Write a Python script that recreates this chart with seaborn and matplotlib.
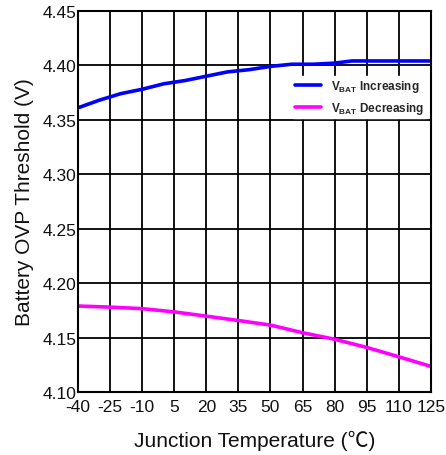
import numpy as np
import pandas as pd
import matplotlib
matplotlib.use("Agg")
import matplotlib.pyplot as plt
import seaborn as sns

temp_inc = [-40, -30, -20, -10, 0, 10, 20, 30, 40, 50, 60, 70, 80, 88, 100, 110, 125]
v_inc = [4.361, 4.368, 4.374, 4.378, 4.383, 4.386, 4.390, 4.394, 4.396, 4.399, 4.401, 4.401, 4.402, 4.404, 4.404, 4.404, 4.404]
temp_dec = [-40, -25, -10, 5, 20, 35, 50, 65, 80, 95, 110, 125]
v_dec = [4.179, 4.178, 4.1766, 4.1736, 4.1697, 4.1657, 4.1615, 4.1545, 4.1485, 4.141, 4.1324, 4.1236]
series_names = ["$\\mathbf{V_{BAT}}$ Increasing", "$\\mathbf{V_{BAT}}$ Decreasing"]
x_ticks = [-40, -25, -10, 5, 20, 35, 50, 65, 80, 95, 110, 125]
y_ticks = [4.10, 4.15, 4.20, 4.25, 4.30, 4.35, 4.40, 4.45]

sns.set_style("white")
plt.rcParams['font.family'] = ['Liberation Sans', 'Noto Sans CJK SC', 'DejaVu Sans']
plt.rcParams['mathtext.fontset'] = 'custom'
plt.rcParams['mathtext.rm'] = 'Liberation Sans'
plt.rcParams['mathtext.bf'] = 'Liberation Sans:bold'

df = pd.concat([
    pd.DataFrame({"T": temp_inc, "V": v_inc, "s": series_names[0]}),
    pd.DataFrame({"T": temp_dec, "V": v_dec, "s": series_names[1]}),
])

fig = plt.figure(figsize=(4.46, 4.56), dpi=100)
ax = fig.add_axes([0.175, 0.138, 0.791, 0.836])
sns.lineplot(data=df, x="T", y="V", hue="s", palette=["#0000FF", "#FF00FF"],
             linewidth=2.6, ax=ax, zorder=3)
ax.set_xlim(-40, 125)
ax.set_ylim(4.10, 4.45)
ax.set_xticks(x_ticks)
ax.set_yticks(y_ticks)
ax.set_xticklabels([str(t) for t in x_ticks], fontsize=12.5)
ax.set_yticklabels([f"{v:.2f}" for v in y_ticks], fontsize=12.5)
ax.tick_params(axis='x', length=0, pad=5, colors='#111111')
ax.tick_params(axis='y', length=0, pad=1, colors='#111111')
ax.grid(True, color='black', linewidth=1.3)
ax.set_axisbelow(True)
for sp in ax.spines.values():
    sp.set_color('black')
    sp.set_linewidth(1.5)
    sp.set_zorder(6)
ax.set_xlabel("Junction Temperature (℃)", fontsize=15, labelpad=11, color='#111111')
ax.set_ylabel("Battery OVP Threshold (V)", fontsize=15, labelpad=6, color='#111111')
leg = ax.legend(loc='upper right', bbox_to_anchor=(1.004, 0.845), frameon=True,
                fontsize=8.5, handlelength=2.2, labelspacing=0.5,
                borderpad=0.2, handletextpad=0.8)
leg.set_zorder(4)
leg.get_frame().set_edgecolor('white')
leg.get_frame().set_facecolor('white')
leg.get_frame().set_alpha(1.0)
leg.get_frame().set_boxstyle('square', pad=0)
for t in leg.get_texts():
    t.set_fontweight('bold')
for l in leg.get_lines():
    l.set_linewidth(2.6)
fig.savefig("out.png", dpi=100)
